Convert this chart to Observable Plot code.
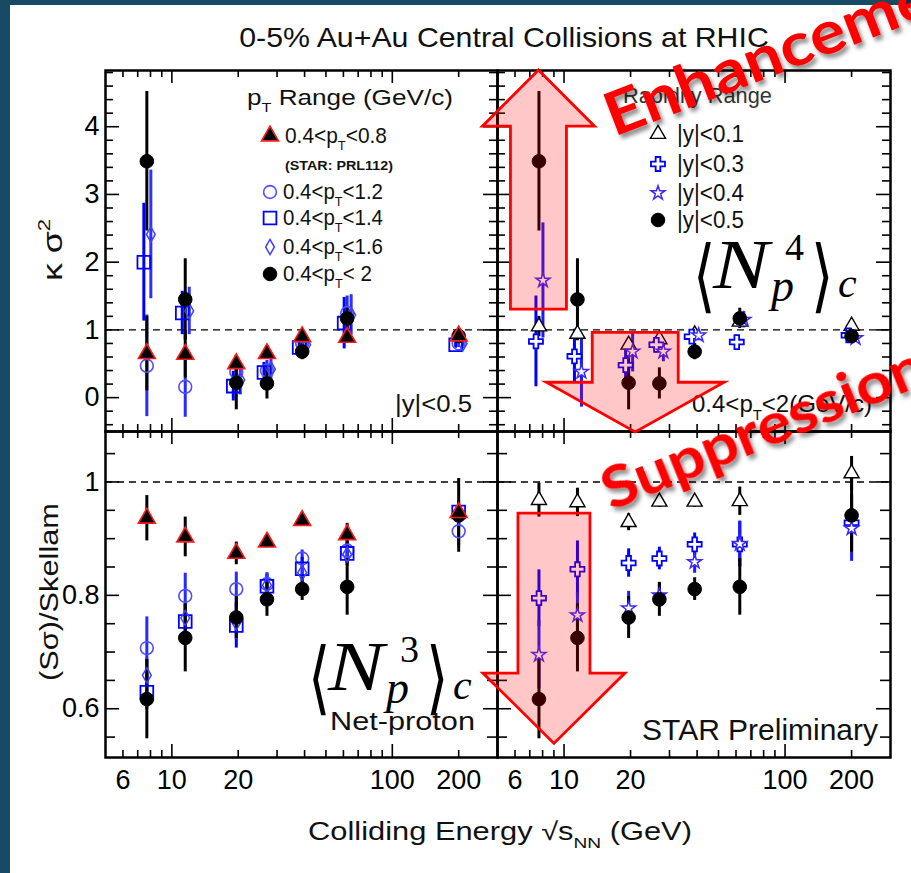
<!DOCTYPE html>
<html lang="en">
<head>
<meta charset="utf-8">
<title>Net-proton cumulant ratios vs. colliding energy</title>
<script src="https://cdn.jsdelivr.net/npm/d3@7"></script>
<script src="https://cdn.jsdelivr.net/npm/@observablehq/plot@0.6"></script>
<style>
  html, body { margin: 0; padding: 0; background: #fff; }
  #page { position: relative; width: 911px; height: 873px; overflow: hidden; background: #fff; }
  .panel { position: absolute; }
  .panel svg { overflow: visible; display: block; }
  .layer { position: absolute; left: 0; top: 0; pointer-events: none; overflow: hidden; }
  .band { position: absolute; background: #184a63; }
</style>
</head>
<body>
<div id="page">
  <svg id="labels" class="layer" width="911" height="873"></svg>
  <div id="panels"></div>
  <div class="band" style="left:0;top:0;width:10px;height:873px"></div>
  <div class="band" style="left:0;top:0;width:911px;height:5px"></div>
  <svg id="overlay" class="layer" width="911" height="873"></svg>
</div>
<script>
// ---------------------------------------------------------------------------
// Data: 0-5% central Au+Au, net-proton cumulant ratios vs. √sNN
// ---------------------------------------------------------------------------
const energies = [7.7, 11.5, 19.6, 27, 39, 62.4, 200];

// κσ², |y|<0.5, by transverse-momentum window
const kurtPt08 = [0.65, 0.64, 0.50, 0.65, 0.90, 0.89, 0.91];
const kurtPt08Err = [0.55, 0.35, 0.12, 0.08, 0.08, 0.06, 0.05];
const kurtPt12 = [0.47, 0.16, 0.38, 0.40, 0.80, 1.25, 0.80];
const kurtPt12Err = [0.75, 0.45, 0.22, 0.15, 0.10, 0.25, 0.06];
const kurtPt14 = [2.00, 1.25, 0.17, 0.37, 0.74, 1.10, 0.78];
const kurtPt14Err = [0.87, 0.32, 0.22, 0.15, 0.08, 0.38, 0.05];
const kurtPt16 = [2.41, 1.28, 0.26, 0.42, 0.78, 1.22, 0.80];
const kurtPt16Err = [0.95, 0.35, 0.22, 0.15, 0.08, 0.30, 0.05];
const kurtPt20 = [3.49, 1.45, 0.22, 0.21, 0.68, 1.17, 0.91];
const kurtPt20Err = [1.03, 0.60, 0.40, 0.23, 0.12, 0.15, 0.06];

// κσ², 0.4<pT<2, by rapidity window (|y|<0.5 is kurtPt20)
const kurtY01 = [1.05, 0.94, 0.78, 0.86, 0.93, 1.12, 1.06];
const kurtY01Err = [0.15, 0.10, 0.10, 0.08, 0.05, 0.08, 0.04];
const kurtY03 = [0.83, 0.61, 0.48, 0.78, 0.90, 0.82, 0.92];
const kurtY03Err = [0.67, 0.40, 0.30, 0.12, 0.06, 0.10, 0.05];
const kurtY04 = [1.73, 0.38, 0.68, 0.68, 0.92, 1.15, 0.88];
const kurtY04Err = [0.85, 0.52, 0.30, 0.15, 0.08, 0.12, 0.05];

// (Sσ)/Skellam, |y|<0.5, by transverse-momentum window
const skewPt08 = [0.936, 0.903, 0.874, 0.894, 0.932, 0.907, 0.946];
const skewPt08Err = [0.040, 0.035, 0.020, 0.010, 0.008, 0.020, 0.012];
const skewPt12 = [0.707, 0.799, 0.811, 0.820, 0.865, 0.879, 0.913];
const skewPt12Err = [0.055, 0.040, 0.030, 0.020, 0.015, 0.020, 0.025];
const skewPt14 = [0.629, 0.754, 0.747, 0.816, 0.847, 0.874, 0.947];
const skewPt14Err = [0.030, 0.030, 0.040, 0.020, 0.020, 0.020, 0.020];
const skewPt16 = [0.659, 0.760, 0.752, 0.818, 0.840, 0.872, 0.940];
const skewPt16Err = [0.030, 0.030, 0.030, 0.020, 0.020, 0.020, 0.020];
const skewPt20 = [0.617, 0.725, 0.761, 0.793, 0.811, 0.815, 0.941];
const skewPt20Err = [0.070, 0.060, 0.037, 0.030, 0.020, 0.050, 0.065];

// (Sσ)/Skellam, 0.4<pT<2, by rapidity window (|y|<0.5 is skewPt20)
const skewY01 = [0.968, 0.964, 0.929, 0.965, 0.965, 0.966, 1.015];
const skewY01Err = [0.030, 0.025, 0.015, 0.010, 0.010, 0.025, 0.030];
const skewY03 = [0.795, 0.846, 0.857, 0.865, 0.890, 0.890, 0.928];
const skewY03Err = [0.050, 0.050, 0.025, 0.020, 0.020, 0.040, 0.050];
const skewY04 = [0.695, 0.765, 0.777, 0.800, 0.859, 0.891, 0.918];
const skewY04Err = [0.060, 0.040, 0.030, 0.020, 0.020, 0.040, 0.058];

// Axis ticks and labels
const energyTickLabels = [6, 10, 20, 100, 200];
const energyMajorTicks = [10, 100];
const energyMinorTicks = [6, 7, 8, 9, 20, 30, 40, 50, 60, 70, 80, 90, 200];
const kurtTickLabels = [0, 1, 2, 3, 4];
const kurtMinorTicks = d3.range(-4, 49, 2).map(d => d / 10).filter(d => d % 1 !== 0);
const skewTickLabels = [0.6, 0.8, 1];
const skewMinorTicks = [0.55, 0.65, 0.7, 0.75, 0.85, 0.9, 0.95, 1.05];

// Legend entries
const ptLegendTitle = "p_{T} Range (GeV/c)";
const ptLegendLabels = ["0.4<p_{T}<0.8", "0.4<p_{T}<1.2", "0.4<p_{T}<1.4", "0.4<p_{T}<1.6", "0.4<p_{T}< 2"];
const ptLegendNote = "(STAR: PRL112)";
const yLegendTitle = "Rapidity Range";
const yLegendLabels = ["|y|<0.1", "|y|<0.3", "|y|<0.4", "|y|<0.5"];

// ---------------------------------------------------------------------------
// Layout
// ---------------------------------------------------------------------------
const X_DOMAIN = [5, 300];
const KURT_DOMAIN = [-0.5, 4.83];
const SKEW_DOMAIN = [0.514, 1.089];
const FRAME = {left: [105, 497], right: [497, 890], top: [70, 431], bottom: [431, 757]};
const M = {l: 80, r: 30, t: 20, b: 50};
const SANS = "'Liberation Sans', Arial, Helvetica, sans-serif";
const SERIF = "'Liberation Serif', 'Times New Roman', serif";
const BRACKET = "'DejaVu Sans', sans-serif";
const CALLOUT = "Lato, 'Open Sans', sans-serif";

const MARKER = {
  pt08: {symbol: "triangle", r: 6.3, fill: "#000", stroke: "#ff1a1a", sw: 1.6, bar: "#000"},
  pt12: {symbol: "circle", r: 6.4, fill: "none", stroke: "#5050ff", sw: 1.6, bar: "#2a2aff"},
  pt14: {symbol: "square", r: 7.2, fill: "none", stroke: "#0000ff", sw: 1.8, bar: "#0000ff"},
  pt16: {symbol: "diamond", r: 4.6, fill: "none", stroke: "#4040ff", sw: 1.5, bar: "#3030ff"},
  pt20: {symbol: "circle", r: 6.8, fill: "#000", stroke: "#000", sw: 1, bar: "#000"},
  y01: {symbol: "triangle", r: 5.6, fill: "#fff", stroke: "#000", sw: 1.4, bar: "#000"},
  y03: {symbol: "cross", r: 5.9, fill: "#fff", stroke: "#0000ff", sw: 1.8, bar: "#0000ff"},
  y04: {symbol: "star", r: 4.4, fill: "#fff", stroke: "#3a2aff", sw: 1.5, bar: "#1a1aff"}
};

const panels = [
  {col: "left", row: "top", domain: KURT_DOMAIN, labels: kurtTickLabels, minor: kurtMinorTicks, major: kurtTickLabels,
   series: [
     {key: "pt12", v: kurtPt12, e: kurtPt12Err},
     {key: "pt14", v: kurtPt14, e: kurtPt14Err, dx: -3},
     {key: "pt16", v: kurtPt16, e: kurtPt16Err, dx: 4},
     {key: "pt20", v: kurtPt20, e: kurtPt20Err},
     {key: "pt08", v: kurtPt08, e: kurtPt08Err}]},
  {col: "right", row: "top", domain: KURT_DOMAIN, labels: null, minor: kurtMinorTicks, major: kurtTickLabels,
   series: [
     {key: "y01", v: kurtY01, e: kurtY01Err},
     {key: "y03", v: kurtY03, e: kurtY03Err, dx: -3},
     {key: "y04", v: kurtY04, e: kurtY04Err, dx: 4},
     {key: "pt20", v: kurtPt20, e: kurtPt20Err}]},
  {col: "left", row: "bottom", domain: SKEW_DOMAIN, labels: skewTickLabels, minor: skewMinorTicks, major: skewTickLabels, xLabels: true,
   series: [
     {key: "pt12", v: skewPt12, e: skewPt12Err},
     {key: "pt14", v: skewPt14, e: skewPt14Err},
     {key: "pt16", v: skewPt16, e: skewPt16Err},
     {key: "pt20", v: skewPt20, e: skewPt20Err},
     {key: "pt08", v: skewPt08, e: skewPt08Err}]},
  {col: "right", row: "bottom", domain: SKEW_DOMAIN, labels: null, minor: skewMinorTicks, major: skewTickLabels, xLabels: true,
   series: [
     {key: "y01", v: skewY01, e: skewY01Err},
     {key: "y03", v: skewY03, e: skewY03Err},
     {key: "y04", v: skewY04, e: skewY04Err},
     {key: "pt20", v: skewPt20, e: skewPt20Err}]}
];

// ---------------------------------------------------------------------------
// Panels (Observable Plot)
// ---------------------------------------------------------------------------
function panelPlot(p) {
  const [x0, x1] = FRAME[p.col], [y0, y1] = FRAME[p.row];
  const w = x1 - x0, h = y1 - y0;
  const rows = p.series.map(s => ({s, rows: energies.map((e, i) => ({e, v: s.v[i], lo: s.v[i] - s.e[i], hi: s.v[i] + s.e[i]}))}));
  const xTicks = (vals, len) => [
    Plot.tickX(vals, {x: d => d, insetTop: h - len, strokeWidth: 1.6}),
    Plot.tickX(vals, {x: d => d, insetBottom: h - len, strokeWidth: 1.6})
  ];
  const yTicks = (vals, len) => [
    Plot.tickY(vals, {y: d => d, insetRight: w - len, strokeWidth: 1.6}),
    Plot.tickY(vals, {y: d => d, insetLeft: w - len, strokeWidth: 1.6})
  ];
  const marks = [
    Plot.ruleY([1], {strokeDasharray: "7,5", strokeWidth: 1.4}),
    ...xTicks(energyMinorTicks, 7), ...xTicks(energyMajorTicks, 13),
    ...yTicks(p.minor, p.row === "top" ? 8 : 10), ...yTicks(p.major, 14),
    // error bars first, markers on top
    ...rows.map(({s, rows}) => Plot.ruleX(rows, {x: "e", y1: "lo", y2: "hi", stroke: MARKER[s.key].bar, strokeWidth: 3, dx: s.dx || 0})),
    ...rows.map(({s, rows}) => {
      const m = MARKER[s.key];
      return Plot.dot(rows, {x: "e", y: "v", symbol: m.symbol, r: m.r, fill: m.fill, stroke: m.stroke, strokeWidth: m.sw, dx: s.dx || 0});
    }),
    Plot.frame({strokeWidth: 2.5})
  ];
  if (p.labels) marks.push(Plot.text(p.labels, {y: d => d, text: d => String(d), frameAnchor: "left", textAnchor: "end", dx: -6, fontSize: 27}));
  if (p.xLabels) marks.push(Plot.text(energyTickLabels, {x: d => d, text: d => String(d), frameAnchor: "bottom", lineAnchor: "bottom", dy: 31, fontSize: 27}));
  const svg = Plot.plot({
    width: w + M.l + M.r, height: h + M.t + M.b,
    marginLeft: M.l, marginRight: M.r, marginTop: M.t, marginBottom: M.b,
    x: {type: "log", domain: X_DOMAIN, axis: null},
    y: {domain: p.domain, axis: null},
    style: {background: "transparent", overflow: "visible", fontFamily: SANS, color: "#000"},
    marks
  });
  const div = document.createElement("div");
  div.className = "panel";
  div.style.left = `${x0 - M.l}px`;
  div.style.top = `${y0 - M.t}px`;
  div.style.width = `${w + M.l + M.r}px`;
  div.appendChild(svg);
  document.getElementById("panels").appendChild(div);
}
panels.forEach(panelPlot);

// Scales matching each panel, for placing annotations
const sx = col => d3.scaleLog(X_DOMAIN, FRAME[col]);
const sy = (row, dom) => d3.scaleLinear(dom, [FRAME[row][1], FRAME[row][0]]);

// ---------------------------------------------------------------------------
// Text helpers: p_{T} subscripts and ^{2} superscripts as tspans
// ---------------------------------------------------------------------------
function rich(text, str, size) {
  const re = /([_^])\{([^}]*)\}/g;
  let last = 0, m, shift = 0;
  const add = (t, kind) => {
    const ts = text.append("tspan").text(t);
    const target = kind === "_" ? 0.33 * size : kind === "^" ? -0.42 * size : 0;
    if (target !== shift) { ts.attr("dy", target - shift); shift = target; }
    if (kind) ts.attr("font-size", size * 0.62);
  };
  while ((m = re.exec(str))) {
    if (m.index > last) add(str.slice(last, m.index), "");
    add(m[2], m[1]);
    last = re.lastIndex;
  }
  if (last < str.length) add(str.slice(last), "");
  return text;
}
// A label whose run can be stretched horizontally to a given width
function label(g, str, {x, y, size, anchor = "start", weight = "normal", fill = "#111", length = null, rotate = 0, family = SANS}) {
  const t = g.append("text")
    .attr("transform", `translate(${x},${y}) rotate(${rotate})`)
    .attr("text-anchor", anchor).attr("font-family", family)
    .attr("font-size", size).attr("font-weight", weight).attr("fill", fill);
  rich(t, str, size);
  if (length) {
    const natural = t.node().getComputedTextLength();
    if (natural > 0) t.attr("transform", `translate(${x},${y}) rotate(${rotate}) scale(${length / natural},1)`);
  }
  return t;
}

// ---------------------------------------------------------------------------
// Titles and axis labels
// ---------------------------------------------------------------------------
const base = d3.select("#labels");
label(base, "0-5% Au+Au Central Collisions at RHIC", {x: 504, y: 47, size: 27, anchor: "middle", length: 530});
label(base, "Colliding Energy √s_{NN} (GeV)", {x: 500, y: 840, size: 25, anchor: "middle", length: 384});
label(base, "κ σ^{2}", {x: 62, y: 250, size: 28, anchor: "middle", rotate: -90, length: 62});
label(base, "(Sσ)/Skellam", {x: 58, y: 592, size: 26, anchor: "middle", rotate: -90, length: 178});

// ---------------------------------------------------------------------------
// Legends, panel notes and annotations
// ---------------------------------------------------------------------------
const ov = d3.select("#overlay");
const defs = ov.append("defs");
const filt = defs.append("filter").attr("id", "shade").attr("x", "-20%").attr("y", "-30%").attr("width", "150%").attr("height", "170%");
filt.append("feDropShadow").attr("dx", 3).attr("dy", 4).attr("stdDeviation", 2.2).attr("flood-color", "#000").attr("flood-opacity", 0.45);

const SYMBOL = {circle: d3.symbolCircle, square: d3.symbolSquare, diamond: d3.symbolDiamond, triangle: d3.symbolTriangle, cross: d3.symbolCross, star: d3.symbolStar};
function swatch(g, key, x, y) {
  const m = MARKER[key];
  g.append("path")
    .attr("d", d3.symbol(SYMBOL[m.symbol], Math.PI * m.r * m.r)())
    .attr("transform", `translate(${x},${y})`)
    .attr("fill", m.fill).attr("stroke", m.stroke).attr("stroke-width", m.sw);
}

const legends = ov.append("g");
// pT legend (top-left panel)
{
  const [fx] = FRAME.left, fy = FRAME.top[0];
  label(legends, ptLegendTitle, {x: fx + 142, y: fy + 35, size: 22, length: 206});
  const keys = ["pt08", "pt12", "pt14", "pt16", "pt20"];
  const symY = [66, 122, 148, 177, 204];
  const textX = [180, 178, 178, 178, 178];
  const widths = [102, 100, 100, 100, 89];
  keys.forEach((k, i) => {
    swatch(legends, k, fx + 165, fy + symY[i]);
    label(legends, ptLegendLabels[i], {x: fx + textX[i], y: fy + symY[i] + 7, size: 22, length: widths[i]});
  });
  label(legends, ptLegendNote, {x: fx + 180, y: fy + 100, size: 12.5, weight: "bold", length: 108});
}
// rapidity legend (top-right panel)
{
  const [fx] = FRAME.right, fy = FRAME.top[0];
  label(legends, yLegendTitle, {x: fx + 126, y: fy + 33, size: 22, fill: "#333", length: 149});
  const keys = ["y01", "y03", "y04", "pt20"];
  const symY = [64, 94, 123, 150];
  keys.forEach((k, i) => {
    swatch(legends, k, fx + 161, fy + symY[i]);
    label(legends, yLegendLabels[i], {x: fx + 180, y: fy + symY[i] + 8, size: 23, length: 67});
  });
}
// panel notes
label(legends, "|y|<0.5", {x: FRAME.left[1] - 25, y: FRAME.top[1] - 19, size: 24, anchor: "end", length: 77});
label(legends, "0.4<p_{T}<2(GeV/c)", {x: FRAME.right[0] + 195, y: FRAME.top[1] - 19, size: 24, length: 180});
label(legends, "Net-proton", {x: FRAME.left[1] - 22, y: FRAME.bottom[1] - 27, size: 26, anchor: "end", length: 145});
label(legends, "STAR Preliminary", {x: FRAME.right[1] - 12, y: FRAME.bottom[1] - 17, size: 29, anchor: "end", length: 236});

// cumulant symbols ⟨N_p^n⟩_c
function cumulant(g, order, x, y) {
  const t = g.append("g").attr("transform", `translate(${x},${y})`).attr("fill", "#000");
  const bracket = (ch, bx) => t.append("text").attr("transform", `translate(${bx},15) scale(0.72,1)`)
    .attr("font-family", BRACKET).attr("font-size", 80).text(ch);
  bracket("⟨", -20);
  t.append("text").attr("x", 0).attr("y", 0).attr("font-family", SERIF).attr("font-style", "italic").attr("font-size", 70)
    .attr("textLength", 56).attr("lengthAdjust", "spacingAndGlyphs").text("N");
  t.append("text").attr("x", 72).attr("y", -28).attr("font-family", SERIF).attr("font-size", 38).text(order);
  t.append("text").attr("x", 58).attr("y", 13).attr("font-family", SERIF).attr("font-style", "italic").attr("font-size", 46).text("p");
  bracket("⟩", 98);
  t.append("text").attr("x", 125).attr("y", 9).attr("font-family", SERIF).attr("font-style", "italic").attr("font-size", 42).text("c");
}
cumulant(legends, "4", FRAME.right[0] + 216, FRAME.top[0] + 218);
cumulant(legends, "3", FRAME.left[0] + 223, FRAME.bottom[0] + 259);

// Enhancement / suppression arrows, placed in the panels' data coordinates
const arrows = [
  {col: "right", row: "top", domain: KURT_DOMAIN, energy: 7.7, tail: 1.30, head: 4.0, tip: 4.83, shaft: 28, width: 56},
  {col: "right", row: "top", domain: KURT_DOMAIN, energy: 21.1, tail: 0.957, head: 0.22, tip: -0.515, shaft: 43, width: 89},
  {col: "right", row: "bottom", domain: SKEW_DOMAIN, energy: 9.05, tail: 0.944, head: 0.662, tip: 0.538, shaft: 36, width: 71}
];
const arrowG = ov.append("g");
for (const a of arrows) {
  const X = sx(a.col), Y = sy(a.row, a.domain);
  const cx = X(a.energy), t = Y(a.tail), hb = Y(a.head), tp = Y(a.tip);
  const pts = [[cx - a.shaft, t], [cx - a.shaft, hb], [cx - a.width, hb], [cx, tp], [cx + a.width, hb], [cx + a.shaft, hb], [cx + a.shaft, t]];
  arrowG.append("path")
    .attr("d", "M" + pts.map(p => p.join(",")).join("L") + "Z")
    .attr("fill", "rgba(255,0,0,0.22)").attr("stroke", "#ff0000").attr("stroke-width", 2.8).attr("stroke-linejoin", "miter");
}

// Slanted callouts
const callouts = ov.append("g").attr("filter", "url(#shade)");
callouts.append("text").attr("transform", "translate(614,137) rotate(-21) scale(1.12,1)")
  .attr("font-family", CALLOUT).attr("font-weight", "bold").attr("font-size", 60).attr("fill", "#ff0000").text("Enhancement");
callouts.append("text").attr("transform", "translate(611,511) rotate(-22) scale(1.1,1)")
  .attr("font-family", CALLOUT).attr("font-weight", "bold").attr("font-size", 58).attr("fill", "#ff0000").text("Suppression");
</script>
</body>
</html>
